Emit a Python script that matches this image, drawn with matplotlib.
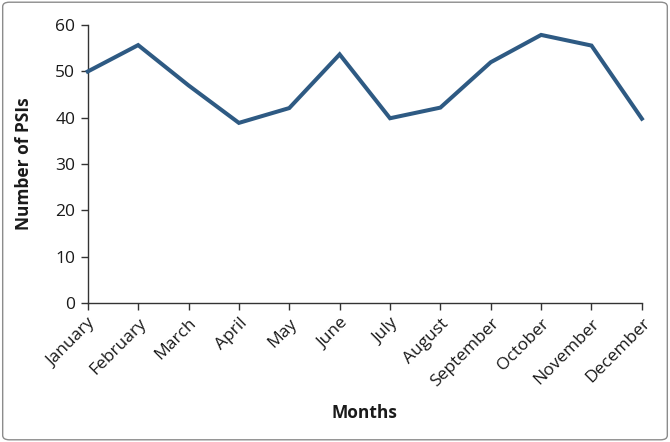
import matplotlib
matplotlib.use("Agg")
import matplotlib.pyplot as plt
from matplotlib.patches import FancyBboxPatch

months = ["January", "February", "March", "April", "May", "June", "July",
          "August", "September", "October", "November", "December"]
psis = [50, 55.7, 47, 38.9, 42.1, 53.7, 39.9, 42.2, 52, 57.9, 55.6, 39.8]
y_ticks = [0, 10, 20, 30, 40, 50, 60]

plt.rcParams['font.family'] = ['Open Sans', 'DejaVu Sans']

fig = plt.figure(figsize=(6.7, 4.42), dpi=100)
ax = fig.add_axes([0.131, 0.3145, 0.827, 0.6285])

x = list(range(len(months)))
ax.plot(x, psis, color='#2E5A83', linewidth=2.9, solid_joinstyle='miter',
        clip_on=False, zorder=3)

ax.set_xlim(0, len(months) - 1)
ax.set_ylim(0, 60)
ax.set_yticks(y_ticks)
ax.set_xticks(x)
ax.set_xticklabels(months, rotation=45, ha='right', rotation_mode='anchor')

for s in ['top', 'right']:
    ax.spines[s].set_visible(False)
for s in ['left', 'bottom']:
    ax.spines[s].set_color('#333333')
    ax.spines[s].set_linewidth(1.0)
ax.tick_params(axis='both', colors='#333333', labelcolor='#1a1a1a',
               labelsize=12.5, length=5, width=1.0, direction='out')
ax.tick_params(axis='x', pad=4)
ax.tick_params(axis='y', pad=4)

ax.set_ylabel("Number of PSIs", fontsize=12.5, fontweight='bold', color='#1a1a1a', labelpad=16)
ax.set_xlabel("Months", fontsize=12.5, fontweight='bold', color='#1a1a1a', labelpad=10)

border = FancyBboxPatch((0.004, 0.005), 0.992, 0.99,
                        boxstyle="round,pad=0,rounding_size=0.01",
                        transform=fig.transFigure, fill=False,
                        edgecolor='#8c8c8c', linewidth=1.0)
fig.patches.append(border)

fig.savefig("out.png", dpi=100)
